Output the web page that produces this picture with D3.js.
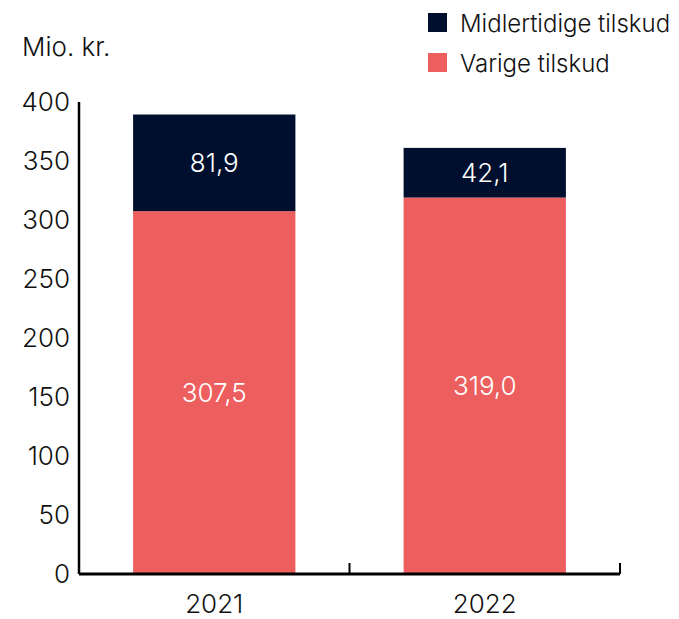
<!DOCTYPE html>
<html>
<head>
<meta charset="utf-8">
<script src="https://cdn.jsdelivr.net/npm/d3@7"></script>
<style>
	body { margin: 0; background: #fff; }
	svg text { font-family: Inter, "Open Sans", sans-serif; font-weight: 300; }
</style>
</head>
<body>
<div id="graphicContainer"></div>
<script>
var years = ["2021", "2022"]
var varige = [307.5, 319.0]
var midlertidige = [81.9, 42.1]
var yTicks = [0, 50, 100, 150, 200, 250, 300, 350, 400]
var seriesNames = ["Midlertidige tilskud", "Varige tilskud"]
var colors = ["#000f2d", "#ed5f5f"]

function numberFormat(num) {
	return num.toFixed(1).replace(".", ",")
}

var width = 679, height = 619
var margin = {top: 102, right: 59, bottom: 45, left: 79}

var svg = d3.select("#graphicContainer").append("svg")
	.attr("width", width)
	.attr("height", height)

var features = svg.append("g").attr("transform", "translate(" + margin.left + "," + margin.top + ")")
var w = width - margin.left - margin.right
var h = height - margin.top - margin.bottom

var x = d3.scaleBand().domain(years).range([0, w]).paddingInner(0.4).paddingOuter(0.2)
var y = d3.scaleLinear().domain([0, 400]).range([h, 0])

var data = years.map(function(d, i) {
	return {year: d, varige: varige[i], midlertidige: midlertidige[i]}
})

var stack = d3.stack().keys(["varige", "midlertidige"])(data)

features.selectAll(".layer")
	.data(stack)
	.enter().append("g")
	.attr("class", "layer")
	.style("fill", function(d, i) { return i == 0 ? colors[1] : colors[0] })
	.selectAll("rect")
	.data(function(d) { return d })
	.enter().append("rect")
	.attr("x", function(d) { return x(d.data.year) })
	.attr("y", function(d) { return y(d[1]) })
	.attr("width", x.bandwidth())
	.attr("height", function(d) { return y(d[0]) - y(d[1]) })

stack.forEach(function(layer) {
	features.selectAll(null)
		.data(layer)
		.enter().append("text")
		.attr("x", function(d) { return x(d.data.year) + x.bandwidth() / 2 })
		.attr("y", function(d) { return (y(d[0]) + y(d[1])) / 2 })
		.attr("dy", "0.36em")
		.attr("text-anchor", "middle")
		.attr("fill", "#ffffff")
		.style("font-size", "26px")
		.text(function(d) { return numberFormat(d[1] - d[0]) })
})

// y axis
var yAxis = d3.axisLeft(y).tickValues(yTicks).tickSize(0).tickPadding(9)
var yg = features.append("g").attr("class", "y").call(yAxis)
yg.select(".domain").attr("stroke", "#000").attr("stroke-width", 2.5).attr("d", "M0," + h + "V0")
yg.selectAll("text").style("font-size", "26px").attr("fill", "#111").attr("font-family", null)

// x axis, ticks at band edges pointing up
var xg = features.append("g").attr("class", "x").attr("transform", "translate(0," + h + ")")
xg.append("line").attr("x1", 0).attr("x2", w).attr("stroke", "#000").attr("stroke-width", 3)
var edges = [0, x.step(), w]
xg.selectAll(".edge").data(edges).enter().append("line")
	.attr("x1", function(d) { return d }).attr("x2", function(d) { return d })
	.attr("y1", -11).attr("y2", 0)
	.attr("stroke", "#000").attr("stroke-width", 2)
xg.selectAll(".lbl").data(years).enter().append("text")
	.attr("x", function(d) { return x(d) + x.bandwidth() / 2 })
	.attr("y", 30)
	.attr("dy", "0.36em")
	.attr("text-anchor", "middle")
	.attr("fill", "#111")
	.style("font-size", "26px")
	.text(function(d) { return d })

svg.append("text")
	.attr("x", 22).attr("y", 47)
	.attr("dy", "0.36em")
	.attr("fill", "#111")
	.style("font-size", "26px")
	.text("Mio. kr.")

// legend
var legend = svg.selectAll(".legend").data(seriesNames).enter().append("g")
	.attr("transform", function(d, i) { return "translate(428," + (13 + i * 40) + ")" })
legend.append("rect").attr("width", 19).attr("height", 19)
	.attr("fill", function(d, i) { return colors[i] })
legend.append("text").attr("x", 32).attr("y", 10).attr("dy", "0.36em")
	.attr("fill", "#111").style("font-size", "24px")
	.text(function(d) { return d })
</script>
</body>
</html>
